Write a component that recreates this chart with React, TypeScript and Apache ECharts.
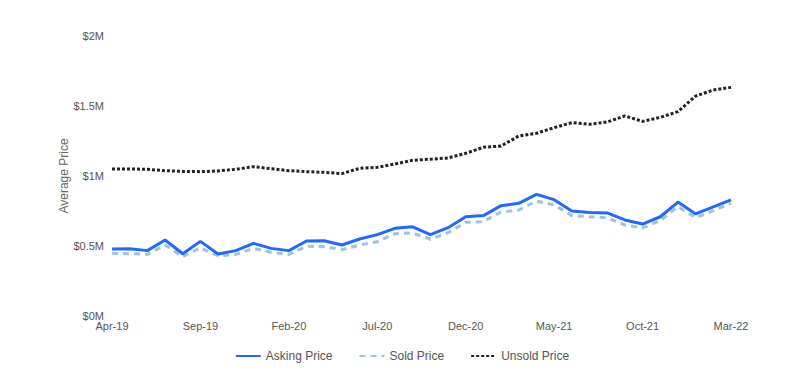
import React, { useEffect, useRef } from "react";
import * as echarts from "echarts";

const months = [
  "Apr-19","May-19","Jun-19","Jul-19","Aug-19","Sep-19","Oct-19","Nov-19","Dec-19",
  "Jan-20","Feb-20","Mar-20","Apr-20","May-20","Jun-20","Jul-20","Aug-20","Sep-20","Oct-20","Nov-20","Dec-20",
  "Jan-21","Feb-21","Mar-21","Apr-21","May-21","Jun-21","Jul-21","Aug-21","Sep-21","Oct-21","Nov-21","Dec-21",
  "Jan-22","Feb-22","Mar-22",
];

const askingPrice = [
  479000, 481000, 467000, 543000, 445000, 533000, 443000, 467000, 519000, 483000,
  467000, 536000, 538000, 507000, 550000, 581000, 626000, 637000, 581000, 631000,
  709000, 717000, 788000, 805000, 869000, 831000, 750000, 740000, 736000, 686000,
  657000, 709000, 814000, 729000, 779000, 829000,
];

const soldPrice = [
  448000, 445000, 440000, 507000, 424000, 488000, 429000, 440000, 483000, 455000,
  440000, 498000, 495000, 474000, 507000, 531000, 588000, 593000, 548000, 595000,
  669000, 674000, 743000, 757000, 821000, 793000, 717000, 709000, 702000, 650000,
  629000, 681000, 781000, 702000, 752000, 805000,
];

const unsoldPrice = [
  1050000, 1050000, 1048000, 1038000, 1033000, 1031000, 1036000, 1048000, 1067000, 1052000,
  1038000, 1031000, 1026000, 1017000, 1055000, 1062000, 1086000, 1112000, 1120000, 1129000,
  1162000, 1205000, 1214000, 1286000, 1305000, 1345000, 1381000, 1369000, 1386000, 1429000,
  1390000, 1419000, 1460000, 1571000, 1614000, 1633000,
];

const FONT = "'Liberation Sans', Arial, sans-serif";

export default function App() {
  const ref = useRef<HTMLDivElement>(null);
  useEffect(() => {
    if (!ref.current) return;
    const chart = echarts.init(ref.current, null, { renderer: "svg" });
    chart.setOption({
      animation: false,
      textStyle: { fontFamily: FONT },
      grid: { left: 112, right: 73, top: 36, bottom: 70, containLabel: false },
      graphic: [
        {
          type: "text",
          x: 64,
          y: 176,
          rotation: Math.PI / 2,
          style: {
            text: "Average Price",
            fill: "#666",
            fontSize: 12,
            fontFamily: FONT,
            align: "center",
            verticalAlign: "middle",
          },
        },
      ],
      legend: {
        bottom: 19,
        left: "center",
        itemWidth: 25,
        itemHeight: 10,
        itemGap: 26,
        itemStyle: { opacity: 0 },
        textStyle: { color: "#555", fontSize: 12, fontFamily: FONT },
        data: ["Asking Price", "Sold Price", "Unsold Price"],
      },
      xAxis: {
        type: "category",
        data: months,
        boundaryGap: false,
        axisLine: { show: false },
        axisTick: { show: false },
        axisLabel: { interval: 4, color: "#555", fontSize: 11, margin: 4 },
        splitLine: { show: false },
      },
      yAxis: {
        type: "value",
        min: 0,
        max: 2000000,
        interval: 500000,
        axisLine: { show: false },
        axisTick: { show: false },
        splitLine: { show: false },
        axisLabel: {
          color: "#555",
          fontSize: 11,
          margin: 8,
          formatter: (v: number) => "$" + v / 1000000 + "M",
        },
      },
      series: [
        {
          name: "Asking Price",
          type: "line",
          data: askingPrice,
          symbol: "none",
          z: 3,
          lineStyle: { color: "#2469f5", width: 3 },
          itemStyle: { color: "#2469f5" },
        },
        {
          name: "Sold Price",
          type: "line",
          data: soldPrice,
          symbol: "none",
          z: 2,
          lineStyle: { color: "#9dc2e8", width: 3, type: [6, 5] },
          itemStyle: { color: "#9dc2e8" },
        },
        {
          name: "Unsold Price",
          type: "line",
          data: unsoldPrice,
          symbol: "none",
          z: 2,
          lineStyle: { color: "#222", width: 3, type: [3, 2] },
          itemStyle: { color: "#222" },
        },
      ],
    });
    return () => chart.dispose();
  }, []);
  return <div ref={ref} style={{ width: 804, height: 386, margin: -8 }} />;
}
